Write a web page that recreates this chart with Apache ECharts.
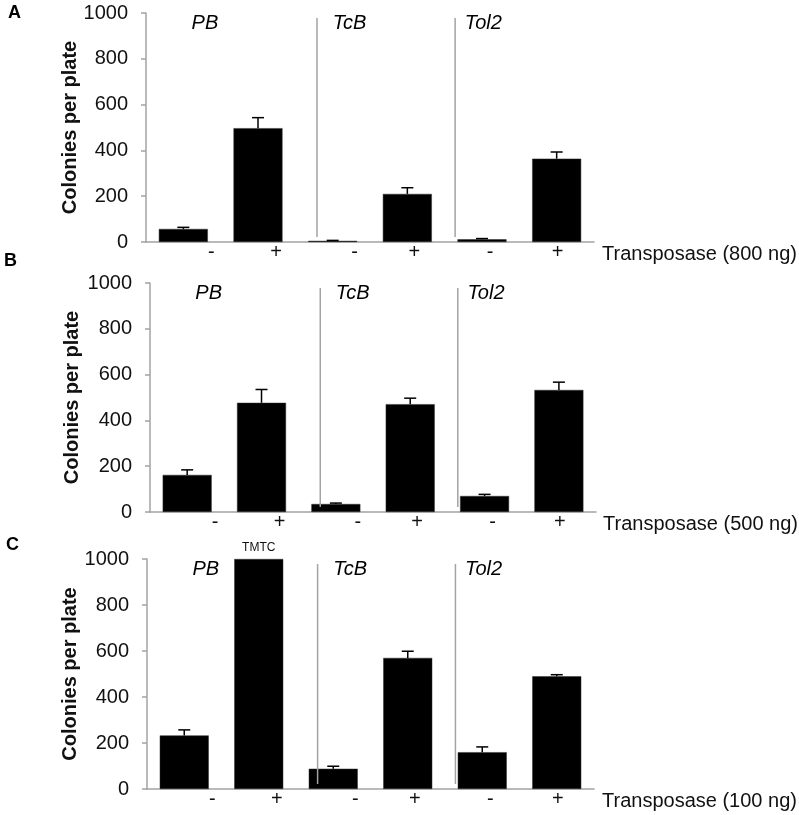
<!DOCTYPE html>
<html>
<head>
<meta charset="utf-8">
<script src="https://cdn.jsdelivr.net/npm/echarts@6.0.0/dist/echarts.min.js"></script>
<style>
html,body{margin:0;padding:0;background:#fff;}
#chart{width:799px;height:815px;}
</style>
</head>
<body>
<div id="chart"></div>
<script>
// ---- data ----
const categories = ['-', '+', '-', '+', '-', '+'];
const groups = ['PB', 'TcB', 'Tol2'];
const groupStart = [0, 2, 4];
const panelLetters = ['A', 'B', 'C'];
const doseLabels = ['Transposase (800 ng)', 'Transposase (500 ng)', 'Transposase (100 ng)'];
const yName = 'Colonies per plate';
const yMin = 0, yMax = 1000, yStep = 200;

const valuesA = [57, 497, 5, 210, 12, 364];
const errorsA = [7, 46, 2, 27, 3, 29];
const valuesB = [162, 477, 35, 471, 70, 533];
const errorsB = [22, 58, 4, 26, 7, 34];
const valuesC = [233, 1000, 88, 570, 160, 490];
const errorsC = [24, 0, 11, 29, 23, 7];
const notesC = ['', 'TMTC', '', '', '', ''];

// ---- styles / layout ----
const FONT = '"Liberation Sans", Arial, sans-serif';
const AXIS_GRAY = '#a3a3a3';
const grids = [
  {left: 146, top: 13, width: 448, height: 229},
  {left: 150, top: 283, width: 447, height: 229},
  {left: 147, top: 559, width: 447, height: 230}
];
const letterPos = [[8, 13], [4, 261], [6, 545]];
const nameGapsX = [8, 7, 8];
const nameGapsY = [66, 68, 67];
const tickLabelShift = [28, 18, 22, 7, 8, 1];   // px shift of "-"/"+" labels
const sepShift = [null, -0.21, -0.36];          // separator offset (band fraction)
const groupLabelShift = [0.11, 0.0, -0.23];     // label left offset (band fraction)
const sepTop = 978, sepBottom = 22, groupLabelY = 955;

const panels = [
  {values: valuesA, errors: errorsA, notes: null},
  {values: valuesB, errors: errorsB, notes: null},
  {values: valuesC, errors: errorsC, notes: notesC}
];

const rich = {};
tickLabelShift.forEach((s, i) => {
  rich['l' + i] = {fontSize: 20, fontFamily: FONT, color: '#111', padding: [0, 0, 0, 2 * s]};
});

function errItem(params, api) {
  const x = api.value(0), lo = api.value(1), hi = api.value(2);
  if (!(hi > lo)) return null;
  const p1 = api.coord([x, lo]);
  const p2 = api.coord([x, hi]);
  const hw = 6;
  return {
    type: 'group',
    children: [
      {type: 'line', shape: {x1: p1[0], y1: p1[1], x2: p2[0], y2: p2[1]}, style: {stroke: '#000', lineWidth: 1.5}},
      {type: 'line', shape: {x1: p2[0] - hw, y1: p2[1], x2: p2[0] + hw, y2: p2[1]}, style: {stroke: '#000', lineWidth: 1.5}}
    ]
  };
}

function groupItem(params, api) {
  const gi = params.dataIndex;
  const idx = api.value(0);
  const band = api.size([1, 0])[0];
  const children = [];
  if (sepShift[gi] !== null) {
    const t = api.coord([idx, sepTop]);
    const b = api.coord([idx, sepBottom]);
    const x = t[0] + sepShift[gi] * band;
    children.push({type: 'line', shape: {x1: x, y1: t[1], x2: x, y2: b[1]},
      style: {stroke: AXIS_GRAY, lineWidth: 1.5}});
  }
  const p = api.coord([idx, groupLabelY]);
  children.push({type: 'text', x: p[0] + groupLabelShift[gi] * band, y: p[1],
    style: {text: groups[gi], fontFamily: FONT, fontStyle: 'italic', fontSize: 20,
      fill: '#000', align: 'left', verticalAlign: 'middle'}});
  return {type: 'group', children: children};
}

const option = {
  animation: false,
  backgroundColor: '#fff',
  grid: grids.map(g => Object.assign({containLabel: false}, g)),
  xAxis: panels.map((p, k) => ({
    type: 'category',
    gridIndex: k,
    data: categories,
    name: doseLabels[k],
    nameLocation: 'end',
    nameGap: nameGapsX[k],
    nameMoveOverlap: false,
    nameTextStyle: {fontFamily: FONT, fontSize: 20, color: '#111', verticalAlign: 'top', padding: [2, 0, 0, 0]},
    axisLine: {show: true, lineStyle: {color: AXIS_GRAY, width: 1.5}},
    axisTick: {show: false},
    axisLabel: {
      margin: 0,
      formatter: (v, i) => '{l' + i + '|' + v + '}',
      rich: rich
    },
    splitLine: {show: false}
  })),
  yAxis: panels.map((p, k) => ({
    type: 'value',
    gridIndex: k,
    min: yMin, max: yMax, interval: yStep,
    name: yName,
    nameLocation: 'middle',
    nameGap: nameGapsY[k],
    nameMoveOverlap: false,
    nameTextStyle: {fontFamily: FONT, fontSize: 20, fontWeight: 'bold', color: '#111'},
    axisLine: {show: true, lineStyle: {color: AXIS_GRAY, width: 1.5}},
    axisTick: {show: true, inside: false, length: 5, lineStyle: {color: AXIS_GRAY, width: 1.5}},
    axisLabel: {margin: 18, fontFamily: FONT, fontSize: 20, color: '#111', formatter: v => String(v)},
    splitLine: {show: false}
  })),
  series: [].concat(...panels.map((p, k) => [
    {
      type: 'bar',
      xAxisIndex: k, yAxisIndex: k,
      barWidth: 49,
      itemStyle: {color: '#000', borderColor: '#333', borderWidth: 0.5},
      data: p.values.map((v, i) => (p.notes && p.notes[i]) ? {
        value: v,
        label: {show: true, position: 'top', distance: 5, formatter: p.notes[i],
          fontFamily: FONT, fontSize: 12, color: '#111'}
      } : v),
      z: 2
    },
    {
      type: 'custom',
      xAxisIndex: k, yAxisIndex: k,
      renderItem: errItem,
      data: p.values.map((v, i) => [i, v, v + p.errors[i]]),
      z: 3
    },
    {
      type: 'custom',
      xAxisIndex: k, yAxisIndex: k,
      renderItem: groupItem,
      data: groupStart.map(s => [s]),
      z: 4
    }
  ])),
  graphic: panelLetters.map((t, k) => ({
    type: 'text',
    left: letterPos[k][0],
    top: letterPos[k][1] - 9,
    style: {text: t, fontFamily: FONT, fontSize: 18, fontWeight: 'bold', fill: '#000'}
  }))
};

const chart = echarts.init(document.getElementById('chart'), null, {renderer: 'canvas'});
chart.setOption(option);
</script>
</body>
</html>
